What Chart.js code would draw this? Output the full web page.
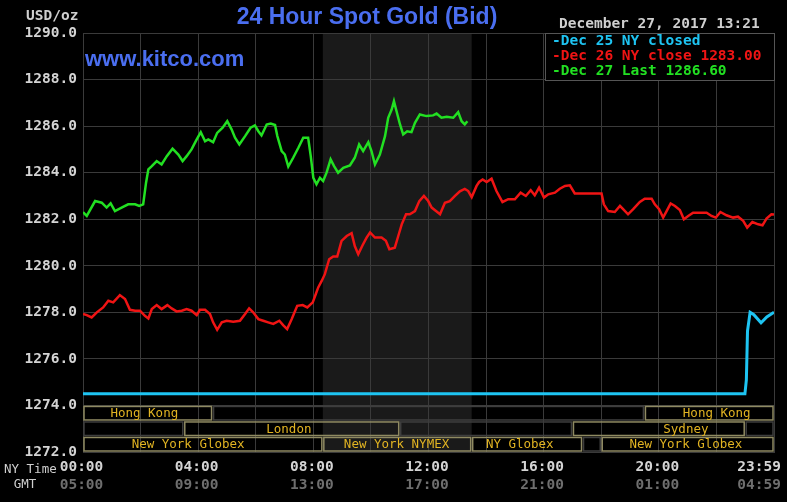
<!DOCTYPE html>
<html lang="en">
<head>
<meta charset="UTF-8">
<title>24 Hour Spot Gold (Bid)</title>
<script src="https://cdn.jsdelivr.net/npm/chart.js@4"></script>
<style>
  html, body { margin: 0; padding: 0; background: #000; }
  #wrap { width: 787px; height: 502px; }
</style>
</head>
<body>
<div id="wrap"><canvas id="chart" width="787" height="502"></canvas></div>
<script>
// time is hours after 00:00 New York, price is USD/oz
const dec25Hours = [0, 22.99, 23.04, 23.08, 23.17, 23.30, 23.55, 23.75, 24.0];
const dec25Values = [1274.5, 1274.5, 1275.1, 1277.2, 1278.0, 1277.9, 1277.55, 1277.8, 1278.0];

const dec26Hours = [0, 0.13, 0.30, 0.48, 0.70, 0.88, 1.05, 1.28, 1.46, 1.63,
  1.81, 1.98, 2.15, 2.27, 2.39, 2.56, 2.73, 2.93, 3.08, 3.25,
  3.43, 3.60, 3.77, 3.95, 4.06, 4.24, 4.41, 4.52, 4.66, 4.82,
  4.99, 5.22, 5.45, 5.63, 5.77, 5.91, 6.09, 6.26, 6.43, 6.61,
  6.82, 6.95, 7.09, 7.25, 7.44, 7.63, 7.79, 7.98, 8.09, 8.17,
  8.29, 8.40, 8.55, 8.69, 8.83, 8.98, 9.16, 9.33, 9.44, 9.56,
  9.71, 9.85, 9.97, 10.14, 10.37, 10.52, 10.64, 10.83, 10.95, 11.07,
  11.22, 11.35, 11.53, 11.68, 11.84, 11.99, 12.11, 12.26, 12.40, 12.57,
  12.74, 12.92, 13.09, 13.26, 13.38, 13.50, 13.67, 13.76, 13.88, 14.02,
  14.19, 14.36, 14.57, 14.77, 15.00, 15.20, 15.38, 15.55, 15.69, 15.84,
  16.01, 16.16, 16.39, 16.56, 16.74, 16.91, 17.08, 18.01, 18.09, 18.24,
  18.47, 18.65, 18.76, 18.93, 19.11, 19.34, 19.51, 19.75, 19.86, 20.01,
  20.15, 20.27, 20.41, 20.56, 20.73, 20.87, 21.02, 21.19, 21.42, 21.66,
  21.83, 21.98, 22.14, 22.35, 22.58, 22.75, 22.93, 23.07, 23.25, 23.45,
  23.60, 23.74, 23.91, 24.0];
const dec26Values = [1277.93, 1277.88, 1277.78, 1278.00, 1278.21, 1278.50, 1278.43, 1278.74, 1278.57, 1278.11,
  1278.07, 1278.07, 1277.85, 1277.74, 1278.14, 1278.31, 1278.14, 1278.31, 1278.17, 1278.04,
  1278.07, 1278.14, 1278.07, 1277.88, 1278.11, 1278.11, 1277.93, 1277.57, 1277.25, 1277.57,
  1277.64, 1277.60, 1277.64, 1277.93, 1278.17, 1278.00, 1277.71, 1277.64, 1277.57, 1277.50,
  1277.64, 1277.45, 1277.28, 1277.71, 1278.28, 1278.31, 1278.21, 1278.43, 1278.80, 1279.07,
  1279.35, 1279.64, 1280.28, 1280.40, 1280.40, 1281.07, 1281.28, 1281.40, 1280.85, 1280.50,
  1280.88, 1281.21, 1281.43, 1281.21, 1281.21, 1281.07, 1280.71, 1280.78, 1281.28, 1281.78,
  1282.21, 1282.21, 1282.35, 1282.78, 1283.00, 1282.78, 1282.50, 1282.35, 1282.21, 1282.71,
  1282.78, 1283.00, 1283.20, 1283.30, 1283.21, 1282.95, 1283.43, 1283.60, 1283.71, 1283.60,
  1283.74, 1283.21, 1282.74, 1282.86, 1282.86, 1283.14, 1283.00, 1283.25, 1283.03, 1283.36,
  1282.93, 1283.07, 1283.14, 1283.31, 1283.43, 1283.46, 1283.11, 1283.11, 1282.64, 1282.35,
  1282.31, 1282.57, 1282.43, 1282.21, 1282.43, 1282.74, 1282.88, 1282.88, 1282.64, 1282.43,
  1282.07, 1282.35, 1282.68, 1282.57, 1282.40, 1282.00, 1282.14, 1282.28, 1282.28, 1282.28,
  1282.14, 1282.07, 1282.31, 1282.17, 1282.07, 1282.11, 1281.93, 1281.64, 1281.88, 1281.78,
  1281.74, 1282.03, 1282.21, 1282.20];

const dec27Hours = [0, 0.13, 0.42, 0.65, 0.82, 0.96, 1.11, 1.34, 1.57, 1.81,
  1.95, 2.09, 2.19, 2.27, 2.39, 2.56, 2.73, 2.91, 3.11, 3.31,
  3.46, 3.60, 3.77, 3.95, 4.09, 4.24, 4.35, 4.52, 4.66, 4.85,
  5.01, 5.16, 5.28, 5.43, 5.63, 5.82, 5.97, 6.09, 6.20, 6.38,
  6.52, 6.67, 6.75, 6.90, 7.01, 7.13, 7.30, 7.48, 7.65, 7.82,
  7.91, 8.00, 8.11, 8.23, 8.34, 8.46, 8.60, 8.72, 8.86, 9.04,
  9.27, 9.44, 9.59, 9.73, 9.91, 10.02, 10.14, 10.31, 10.49, 10.60,
  10.72, 10.80, 10.89, 11.01, 11.12, 11.26, 11.41, 11.53, 11.70, 11.93,
  12.16, 12.28, 12.45, 12.63, 12.86, 13.03, 13.15, 13.26, 13.35];
const dec27Values = [1282.30, 1282.14, 1282.78, 1282.71, 1282.50, 1282.68, 1282.35, 1282.50, 1282.64, 1282.64,
  1282.57, 1282.64, 1283.57, 1284.14, 1284.28, 1284.50, 1284.35, 1284.71, 1285.03, 1284.78,
  1284.50, 1284.71, 1285.00, 1285.43, 1285.74, 1285.35, 1285.43, 1285.31, 1285.71, 1285.93,
  1286.21, 1285.86, 1285.50, 1285.21, 1285.57, 1285.93, 1286.03, 1285.78, 1285.60, 1286.07,
  1286.11, 1286.05, 1285.57, 1284.93, 1284.78, 1284.26, 1284.64, 1285.07, 1285.50, 1285.50,
  1284.71, 1283.78, 1283.50, 1283.78, 1283.64, 1284.00, 1284.57, 1284.28, 1284.00, 1284.21,
  1284.31, 1284.64, 1285.21, 1284.93, 1285.31, 1284.93, 1284.35, 1284.78, 1285.57, 1286.36,
  1286.71, 1287.07, 1286.64, 1286.07, 1285.64, 1285.78, 1285.74, 1286.14, 1286.50, 1286.43,
  1286.46, 1286.54, 1286.36, 1286.40, 1286.36, 1286.60, 1286.21, 1286.07, 1286.21];

const legendLabels = ['Dec 25 NY closed', 'Dec 26 NY close 1283.00', 'Dec 27 Last 1286.60'];

const nyTimeLabels = ['00:00', '04:00', '08:00', '12:00', '16:00', '20:00', '23:59'];
const gmtLabels = ['05:00', '09:00', '13:00', '17:00', '21:00', '01:00', '04:59'];
const labelHours = [0, 4, 8, 12, 16, 20, 24];

// trading sessions: row 0 = top strip, 2 = bottom strip
const sessionNames = ['Hong Kong', '', 'Hong Kong', '', 'London', '', 'Sydney', '',
  'New York Globex', 'New York NYMEX', 'NY Globex', '', 'New York Globex'];
const sessionRows = [0, 0, 0, 1, 1, 1, 1, 1, 2, 2, 2, 2, 2];
const sessionStart = [0, 4.5, 19.5, 0, 3.5, 11, 17, 23, 0, 8.33, 13.5, 17.35, 18];
const sessionEnd = [4.5, 19.5, 24, 3.5, 11, 17, 23, 24, 8.33, 13.5, 17.35, 18, 24];
const nymexShade = [8.33, 13.5];

// where the session names sit (hours), layout only
const sessionLabelAt = [2.13, null, 22.01, null, 7.15, null, 20.94, null, 3.65, 10.89, 15.17, null, 20.94];
const rowTop = [1274, 1273.333, 1272.667];
const rowStep = 0.6667;

const MONO = '"DejaVu Sans Mono", monospace';
const GRID = '#3a3a3a';

const kitco = {
  id: 'kitco',
  beforeDraw(chart) {
    const { ctx, chartArea: a, scales: { x } } = chart;
    ctx.save();
    ctx.fillStyle = '#000';
    ctx.fillRect(0, 0, chart.width, chart.height);
    const x0 = x.getPixelForValue(nymexShade[0]);
    const x1 = x.getPixelForValue(nymexShade[1]);
    ctx.fillStyle = '#1a1a1a';
    ctx.fillRect(x0, a.top, x1 - x0, a.bottom - a.top);
    ctx.restore();
  },
  beforeDatasetsDraw(chart) {
    const { ctx, scales: { x, y } } = chart;
    ctx.save();
    // site name
    ctx.font = 'bold 22px "Liberation Sans", Arial, sans-serif';
    ctx.fillStyle = '#4a6ef0';
    ctx.textAlign = 'left';
    ctx.textBaseline = 'middle';
    ctx.fillText('www.kitco.com', 85, 60);

    ctx.font = '12.5px ' + MONO;
    ctx.textAlign = 'center';
    ctx.lineWidth = 1.5;
    sessionNames.forEach((name, i) => {
      const l = x.getPixelForValue(sessionStart[i]);
      const r = x.getPixelForValue(sessionEnd[i]);
      const t = y.getPixelForValue(rowTop[sessionRows[i]]);
      const b = y.getPixelForValue(rowTop[sessionRows[i]] - rowStep);
      ctx.strokeStyle = name ? '#8f8a62' : '#3e3e3e';
      ctx.strokeRect(l + 1, t + 1, r - l - 2, b - t - 2);
      if (name) {
        ctx.fillStyle = '#e2b422';
        ctx.fillText(name, x.getPixelForValue(sessionLabelAt[i]), (t + b) / 2 + 1);
      }
    });
    ctx.restore();
  },
  afterDraw(chart) {
    const { ctx, chartArea: a, scales: { x } } = chart;
    ctx.save();
    ctx.textBaseline = 'middle';

    ctx.font = 'bold 23px "Liberation Sans", Arial, sans-serif';
    ctx.fillStyle = '#4a6ef0';
    ctx.textAlign = 'center';
    ctx.fillText('24 Hour Spot Gold (Bid)', 367, 18);

    ctx.font = 'bold 14.5px ' + MONO;
    ctx.fillStyle = '#cfcfcf';
    ctx.textAlign = 'left';
    ctx.fillText('USD/oz', 26, 16);
    ctx.fillText('December 27, 2017 13:21', 559, 24);

    // legend box
    const lw = 229, lh = 47;
    ctx.fillStyle = '#000';
    ctx.fillRect(a.right - lw, a.top, lw, lh);
    ctx.strokeStyle = '#555';
    ctx.lineWidth = 1;
    ctx.strokeRect(a.right - lw + 0.5, a.top + 0.5, lw, lh);
    chart.data.datasets.forEach((ds, i) => {
      ctx.fillStyle = ds.borderColor;
      ctx.fillText('-' + legendLabels[i], a.right - lw + 7, a.top + 8.5 + i * 15);
    });

    // time axis
    ctx.textAlign = 'center';
    labelHours.forEach((h, i) => {
      ctx.font = 'bold 14.5px ' + MONO;
      const w = ctx.measureText(nyTimeLabels[i]).width;
      const cx = Math.min(x.getPixelForValue(h) - 1.5, chart.width - 6 - w / 2);
      ctx.fillStyle = '#d4d4d4';
      ctx.fillText(nyTimeLabels[i], cx, 467);
      ctx.fillStyle = '#6e6e6e';
      ctx.fillText(gmtLabels[i], cx, 485);
    });
    ctx.font = '12.5px ' + MONO;
    ctx.fillStyle = '#cfcfcf';
    ctx.textAlign = 'left';
    ctx.fillText('NY Time', 4, 470);
    ctx.textAlign = 'center';
    ctx.fillText('GMT', 25, 485);
    ctx.restore();
  }
};

const toPoints = (hours, values) => hours.map((h, i) => ({ x: h, y: values[i] }));

new Chart(document.getElementById('chart'), {
  type: 'line',
  data: {
    datasets: [
      { label: legendLabels[0], data: toPoints(dec25Hours, dec25Values), borderColor: '#1ec4f2', borderWidth: 3 },
      { label: legendLabels[1], data: toPoints(dec26Hours, dec26Values), borderColor: '#f01414', borderWidth: 2.5 },
      { label: legendLabels[2], data: toPoints(dec27Hours, dec27Values), borderColor: '#22e022', borderWidth: 2.5 }
    ]
  },
  options: {
    responsive: false,
    animation: false,
    devicePixelRatio: 1,
    layout: { padding: { top: 33, right: 13, left: 0, bottom: 0 } },
    elements: { point: { radius: 0 }, line: { tension: 0 } },
    plugins: { legend: { display: false }, tooltip: { enabled: false } },
    scales: {
      x: {
        type: 'linear',
        min: 0,
        max: 24,
        ticks: { stepSize: 2, display: false },
        grid: { color: GRID, drawTicks: false },
        border: { color: GRID },
        afterFit: s => { s.height = 50; }
      },
      y: {
        min: 1272,
        max: 1290,
        ticks: {
          stepSize: 2,
          padding: 6,
          color: '#d4d4d4',
          font: { family: MONO, size: 14.5, weight: 'bold' },
          callback: v => v.toFixed(1)
        },
        grid: { color: GRID, drawTicks: false },
        border: { color: GRID },
        afterFit: s => { s.width = 83; }
      }
    }
  },
  plugins: [kitco]
});
</script>
</body>
</html>
